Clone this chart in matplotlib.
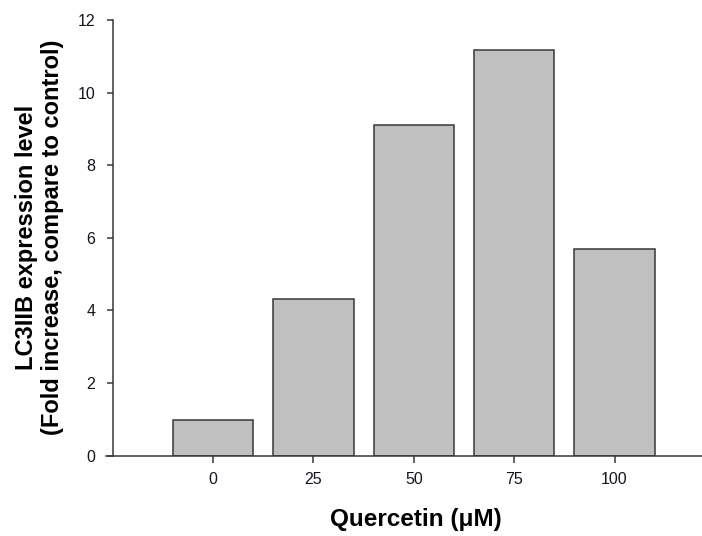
import numpy as np
import matplotlib.pyplot as plt

# Datos
quercetin = np.array([0, 25, 50, 75, 100])
lc3iib = np.array([0.98, 4.32, 9.11, 11.17, 5.70])
y_ticks = [0, 2, 4, 6, 8, 10, 12]

plt.rcParams['font.family'] = ['Liberation Sans', 'DejaVu Sans']

W, H = 702, 536
fig = plt.figure(figsize=(W/100, H/100), dpi=100)
# ejes: izquierda en 106 px, eje x en 455.5 px, tope en 20 px
ax = fig.add_axes([106/W, 1 - 455.5/H, (W - 106)/W, (455.5 - 20)/H])

ax.bar(quercetin, lc3iib, width=20, color='#c0c0c0',
       edgecolor='#383838', linewidth=1.1, zorder=2)

ax.set_xlim(-26.7, 121.8)
ax.set_ylim(0, 12)
ax.set_xticks(quercetin)
ax.set_yticks(y_ticks)

ax.spines['top'].set_visible(False)
ax.spines['right'].set_visible(False)
ax.spines['left'].set_position(('data', -25))
for s in ['left', 'bottom']:
    ax.spines[s].set_linewidth(1.1)
    ax.spines[s].set_color('#383838')

ax.tick_params(direction='out', length=6.5*0.72, width=1.1, color='#383838',
               labelsize=11.5, labelcolor='#151520')
ax.tick_params(axis='x', pad=7.5)
ax.tick_params(axis='y', pad=8)

ax.set_xlabel('Quercetin (μM)', fontsize=17.5, fontweight='bold')
ax.xaxis.set_label_coords(0.52, -0.12)
ax.set_ylabel('LC3IIB expression level\n(Fold increase, compare to control)',
              fontsize=17, fontweight='bold', linespacing=1.2)
ax.yaxis.set_label_coords(-0.07, 0.5)

fig.savefig('out.png', dpi=100)
